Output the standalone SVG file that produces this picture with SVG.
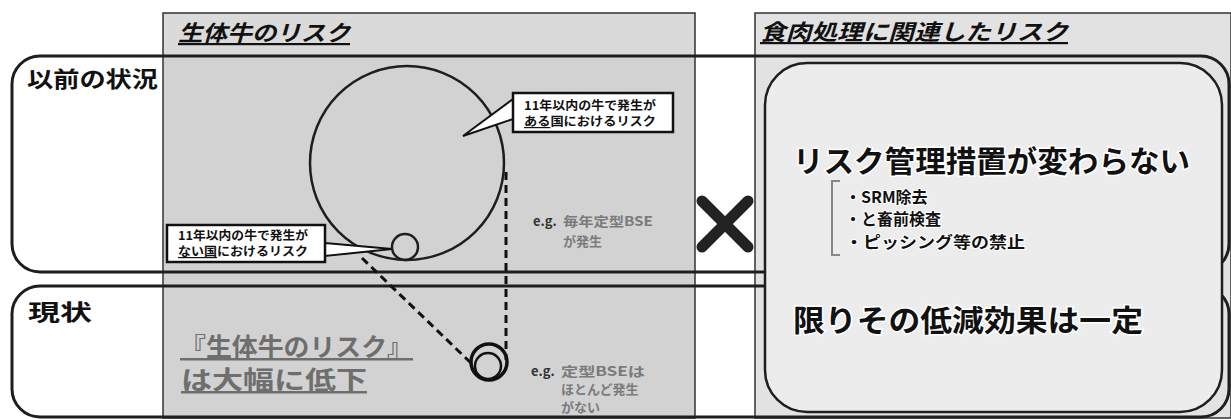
<svg xmlns="http://www.w3.org/2000/svg" width="1231" height="419" viewBox="0 0 1231 419">
<style>
text{font-family:"Noto Sans CJK JP","Noto Sans",sans-serif;}
.hdr{font-size:22px;font-weight:700;font-style:italic;fill:#111;text-decoration:underline;}
.big{font-size:30px;font-weight:700;fill:#111;stroke:#fff;stroke-width:3px;paint-order:stroke;}
.row{font-size:22px;font-weight:700;fill:#111;}
.item{font-size:16px;font-weight:700;fill:#111;stroke:#fff;stroke-width:2px;paint-order:stroke;}
.co{font-size:12px;font-weight:700;fill:#111;}
.eg{font-size:13px;font-weight:700;fill:#7a7a7a;}
.egk{font-size:13px;font-weight:700;fill:#333;}
.gray{font-size:25px;font-weight:700;fill:#6e6e6e;text-decoration:underline;}
.line{fill:none;stroke:#1e1e1e;stroke-width:2.5;}
.dash{fill:none;stroke:#111;stroke-width:3;stroke-dasharray:8 5;}
.rowbox{fill:none;stroke:#1e1e1e;stroke-width:3;}
</style>

<g id="panel-left">
  <rect x="163" y="13" width="532" height="405" fill="#d2d2d2" stroke="#333" stroke-width="1.5"/>
  <rect x="164" y="14" width="530" height="42" fill="#dadada"/>
  <text class="hdr" x="178" y="41" textLength="172" lengthAdjust="spacingAndGlyphs">生体牛のリスク</text>
</g>

<g id="panel-right">
  <rect x="755" y="13" width="476" height="405" fill="#e2e2e2" stroke="#333" stroke-width="1.5"/>
  <text class="hdr" x="760" y="40" textLength="308" lengthAdjust="spacingAndGlyphs">食肉処理に関連したリスク</text>
</g>

<g id="row-before">
  <rect class="rowbox" x="12" y="56" width="1217" height="216" rx="28" ry="28"/>
  <text class="row" x="27" y="87" textLength="131" lengthAdjust="spacingAndGlyphs">以前の状況</text>
</g>

<g id="row-now">
  <rect class="rowbox" x="12" y="286" width="1217" height="131" rx="28" ry="28"/>
  <text class="row" x="28" y="320" font-size="29" textLength="64" lengthAdjust="spacingAndGlyphs">現状</text>
</g>

<g id="big-circle">
  <circle class="line" cx="407" cy="163" r="97"/>
</g>
<g id="small-circle">
  <circle class="line" cx="405" cy="247" r="13"/>
</g>
<g id="reduced-circle">
  <circle cx="489" cy="362" r="18" fill="none" stroke="#111" stroke-width="3.5"/>
  <circle cx="488" cy="366" r="13" fill="none" stroke="#111" stroke-width="2.5"/>
</g>

<g id="connectors">
  <line class="dash" x1="506" y1="172" x2="506" y2="360"/>
  <line class="dash" x1="362" y1="258" x2="472" y2="364"/>
</g>

<g id="callout-yes">
  <polygon points="513,99 463,136 513,119" fill="#fff" stroke="#111" stroke-width="2"/>
  <rect x="513" y="93" width="160" height="39" fill="#fff" stroke="#111" stroke-width="2.5"/>
  <text class="co" x="524" y="110" textLength="132" lengthAdjust="spacingAndGlyphs">11年以内の牛で発生が</text>
  <text class="co" x="524" y="126" textLength="132" lengthAdjust="spacingAndGlyphs"><tspan text-decoration="underline">ある</tspan>国におけるリスク</text>
</g>

<g id="callout-no">
  <polygon points="325,243 392,249 325,256" fill="#fff" stroke="#111" stroke-width="2"/>
  <rect x="167" y="225" width="158" height="37" fill="#fff" stroke="#111" stroke-width="2.5"/>
  <text class="co" x="178" y="240" textLength="130" lengthAdjust="spacingAndGlyphs">11年以内の牛で発生が</text>
  <text class="co" x="178" y="256" textLength="130" lengthAdjust="spacingAndGlyphs"><tspan text-decoration="underline">ない国</tspan>におけるリスク</text>
</g>

<g id="eg-before">
  <text class="egk" x="533" y="226">e.g.</text>
  <text class="eg" x="563" y="226" textLength="90" lengthAdjust="spacingAndGlyphs">毎年定型BSE</text>
  <text class="eg" x="563" y="246">が発生</text>
</g>

<g id="eg-now">
  <text class="egk" x="531" y="376">e.g.</text>
  <text class="eg" x="561" y="376" textLength="84" lengthAdjust="spacingAndGlyphs">定型BSEは</text>
  <text class="eg" x="561" y="394">ほとんど発生</text>
  <text class="eg" x="561" y="412">がない</text>
</g>

<g id="reduced-label">
  <text class="gray" x="180" y="356" textLength="233" lengthAdjust="spacingAndGlyphs">『生体牛のリスク』</text>
  <text class="gray" x="181" y="389" textLength="186" lengthAdjust="spacingAndGlyphs">は大幅に低下</text>
</g>

<g id="times">
  <path d="M702,201 L748,247 M748,201 L702,247" stroke="#222" stroke-width="11" stroke-linecap="round" fill="none"/>
</g>

<g id="measures">
  <rect x="765" y="63" width="457" height="349" rx="42" ry="42" fill="#ececec" stroke="#1e1e1e" stroke-width="2.5"/>
  <text class="big" x="793" y="172" textLength="397" lengthAdjust="spacingAndGlyphs">リスク管理措置が変わらない</text>
  <path d="M840,181 L832,181 L832,255 L840,255" fill="none" stroke="#888" stroke-width="2"/>
  <text class="item" x="845" y="203">・SRM除去</text>
  <text class="item" x="845" y="225">・と畜前検査</text>
  <text class="item" x="845" y="248" textLength="180" lengthAdjust="spacingAndGlyphs">・ピッシング等の禁止</text>
  <text class="big" x="793" y="331" textLength="350" lengthAdjust="spacingAndGlyphs">限りその低減効果は一定</text>
</g>
</svg>
